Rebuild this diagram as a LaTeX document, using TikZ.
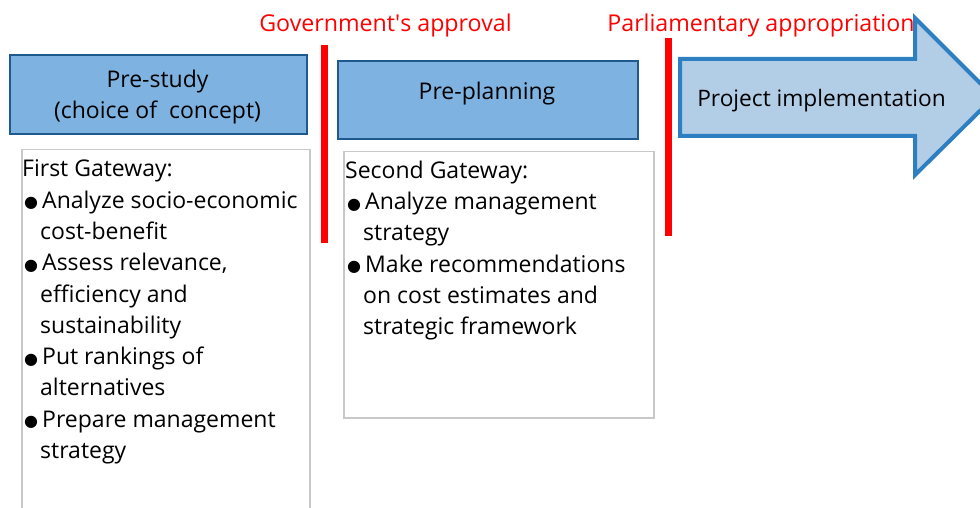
\documentclass[tikz,border=0pt]{standalone}
\usepackage{fontspec}
\setmainfont{Open Sans}
\newfontfamily\dejavu{DejaVu Sans}
\definecolor{boxfill}{HTML}{7EB2E0}
\definecolor{boxdraw}{HTML}{1F5A8F}
\definecolor{arrfill}{HTML}{B2CEE7}
\definecolor{arrdraw}{HTML}{2E7FC1}
\definecolor{gatedraw}{HTML}{C8C8C8}
\definecolor{redline}{HTML}{FF0000}
\tikzset{
  phase/.style={draw=boxdraw, line width=2pt, fill=boxfill, anchor=north west, inner sep=0pt},
  phasetext/.style={anchor=base, inner sep=0pt, font=\fontsize{23}{31}\selectfont},
  gate/.style={draw=gatedraw, line width=1.5pt, anchor=north west, inner sep=0pt},
  gtext/.style={anchor=base west, inner sep=0pt, align=left, font=\fontsize{23}{31.3}\selectfont},
  milestone/.style={text=redline, inner sep=0pt, anchor=base, font=\fontsize{23.2}{26}\selectfont},
  bar/.style={draw=redline, line width=7pt},
}
\newcommand{\bul}{\makebox[20pt][l]{\hspace*{2pt}\raisebox{0.5pt}{\dejavu\fontsize{16}{16}\selectfont ●}}}
\newcommand{\ind}{\hspace*{18pt}}
\begin{document}
\begin{tikzpicture}[x=1pt,y=-1pt]
\useasboundingbox (0,0) rectangle (980,508);
\clip (0,0) rectangle (980,508);
% phase boxes
\node[phase, minimum width=297pt, minimum height=79pt] (pre) at (9,54) {};
\node[phase, minimum width=300pt, minimum height=78pt] (plan) at (337,60) {};
\node[phasetext] (pretxt1) at (157.5,87.3) {Pre-study};
\node[phasetext] (pretxt2) at (157.5,118.3) {(choice of\ \ concept)};
\node[phasetext] (plantxt) at (487,100) {Pre-planning};
% gateway boxes (text nodes anchored at the baseline of their last line)
\node[gate, minimum width=288pt, minimum height=380pt] (g1) at (21,149) {};
\node[gate, minimum width=310pt, minimum height=266pt] (g2) at (343,151) {};
\node[gtext] (t1) at (22,458.5) {First Gateway:\\
\bul Analyze socio-economic\\
\ind cost-benefit\\
\bul Assess relevance,\\
\ind efficiency and\\
\ind sustainability\\
\bul Put rankings of\\
\ind alternatives\\
\bul Prepare management\\
\ind strategy};
\node[gtext] (t2) at (345,334.8) {Second Gateway:\\
\bul Analyze management\\
\ind strategy\\
\bul Make recommendations\\
\ind on cost estimates and\\
\ind strategic framework};
% milestones
\coordinate (b1top) at (324.5,45);
\coordinate (b1bot) at (324.5,243);
\coordinate (b2top) at (668.5,38);
\coordinate (b2bot) at (668.5,236);
\draw[bar] (b1top) -- (b1bot);
\draw[bar] (b2top) -- (b2bot);
\node[milestone] (m1) at (385.5,32) {Government\textquotesingle s approval};
\node[milestone] (m2) at (761,32) {Parliamentary appropriation};
% arrow
\draw[draw=arrdraw, line width=4pt, fill=arrfill, line join=miter]
  (680,59) -- (915,59) -- (915,18) -- (994,97) -- (915,175) -- (915,136) -- (680,136) -- cycle;
\node[inner sep=0pt, anchor=base, font=\fontsize{22.7}{26}\selectfont] (impl) at (821.5,106.7) {Project implementation};
\end{tikzpicture}
\end{document}
